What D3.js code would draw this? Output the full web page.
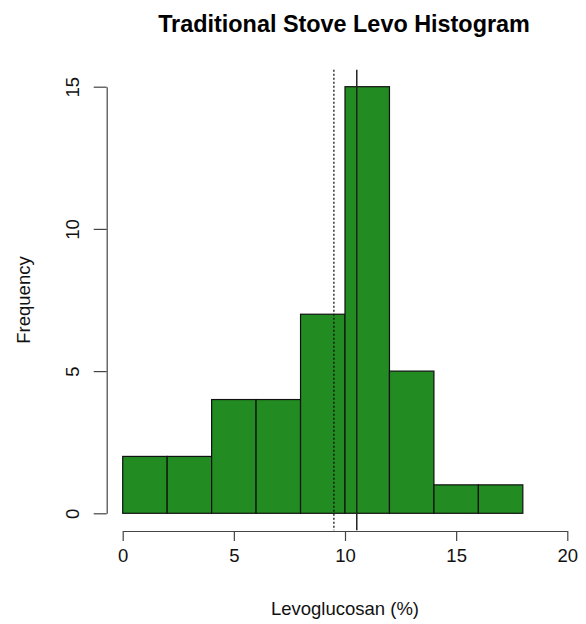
<!DOCTYPE html>
<html>
<head>
<meta charset="utf-8">
<script src="https://cdn.jsdelivr.net/npm/d3@7"></script>
<style>
  body { margin: 0; background: #fff; }
  svg { display: block; font-family: "Liberation Sans", Arial, sans-serif; }
</style>
</head>
<body>
<svg id="chart" width="586" height="624"></svg>
<script>
// histogram bins (lower edges, upper edges) and counts
const binStart = [0, 2, 4, 6, 8, 10, 12, 14, 16];
const binEnd   = [2, 4, 6, 8, 10, 12, 14, 16, 18];
const counts   = [2, 2, 4, 4, 7, 15, 5, 1, 1];

const xTicks = [0, 5, 10, 15, 20];
const yTicks = [0, 5, 10, 15];

// reference lines: dotted and solid
const dottedAt = 9.5;
const solidAt = 10.53;

const svg = d3.select("#chart");

const x = d3.scaleLinear().domain([0, 20]).range([122.7, 567.3]);
const y = d3.scaleLinear().domain([0, 15]).range([513.3, 86.7]);

const plotTop = y(15.6), plotBottom = y(-0.6);

// bars
svg.append("g")
    .selectAll("rect")
    .data(counts)
    .join("rect")
    .attr("x", (d, i) => x(binStart[i]))
    .attr("width", (d, i) => x(binEnd[i]) - x(binStart[i]))
    .attr("y", d => y(d))
    .attr("height", d => y(0) - y(d))
    .attr("fill", "#228B22")
    .attr("stroke", "#111")
    .attr("stroke-width", 1.2);

// vertical lines
svg.append("line")
    .attr("x1", x(dottedAt)).attr("x2", x(dottedAt))
    .attr("y1", plotTop).attr("y2", plotBottom)
    .attr("stroke", "#111")
    .attr("stroke-width", 1.3)
    .attr("stroke-dasharray", "2,2");

svg.append("line")
    .attr("x1", x(solidAt)).attr("x2", x(solidAt))
    .attr("y1", plotTop).attr("y2", plotBottom)
    .attr("stroke", "#222")
    .attr("stroke-width", 1.5);

// x axis
const xaxis = svg.append("g")
    .attr("transform", "translate(0,531)")
    .call(d3.axisBottom(x).tickValues(xTicks).tickSize(10).tickSizeOuter(0).tickPadding(8));
xaxis.selectAll("path, line").attr("stroke", "#444").attr("stroke-width", 1.2);
xaxis.selectAll("text")
    .attr("font-size", 18.5)
    .attr("font-family", "Liberation Sans, Arial, sans-serif")
    .attr("fill", "#111");

// y axis
const yaxis = svg.append("g")
    .attr("transform", "translate(106.7,0)")
    .call(d3.axisLeft(y).tickValues(yTicks).tickSize(13).tickSizeOuter(0));
yaxis.selectAll("path, line").attr("stroke", "#444").attr("stroke-width", 1.2);
yaxis.selectAll("text")
    .attr("font-size", 18.5)
    .attr("font-family", "Liberation Sans, Arial, sans-serif")
    .attr("fill", "#111")
    .attr("x", null)
    .attr("dy", null)
    .attr("text-anchor", "middle")
    .attr("transform", "translate(-27.7,0) rotate(-90)");

// titles
svg.append("text")
    .attr("x", 344).attr("y", 32)
    .attr("text-anchor", "middle")
    .attr("font-size", 23.4)
    .attr("font-weight", "bold")
    .attr("fill", "#000")
    .text("Traditional Stove Levo Histogram");

svg.append("text")
    .attr("x", 345).attr("y", 615)
    .attr("text-anchor", "middle")
    .attr("font-size", 18.5)
    .attr("fill", "#111")
    .text("Levoglucosan (%)");

svg.append("text")
    .attr("transform", "translate(30,300) rotate(-90)")
    .attr("text-anchor", "middle")
    .attr("font-size", 18.5)
    .attr("fill", "#111")
    .text("Frequency");
</script>
</body>
</html>
